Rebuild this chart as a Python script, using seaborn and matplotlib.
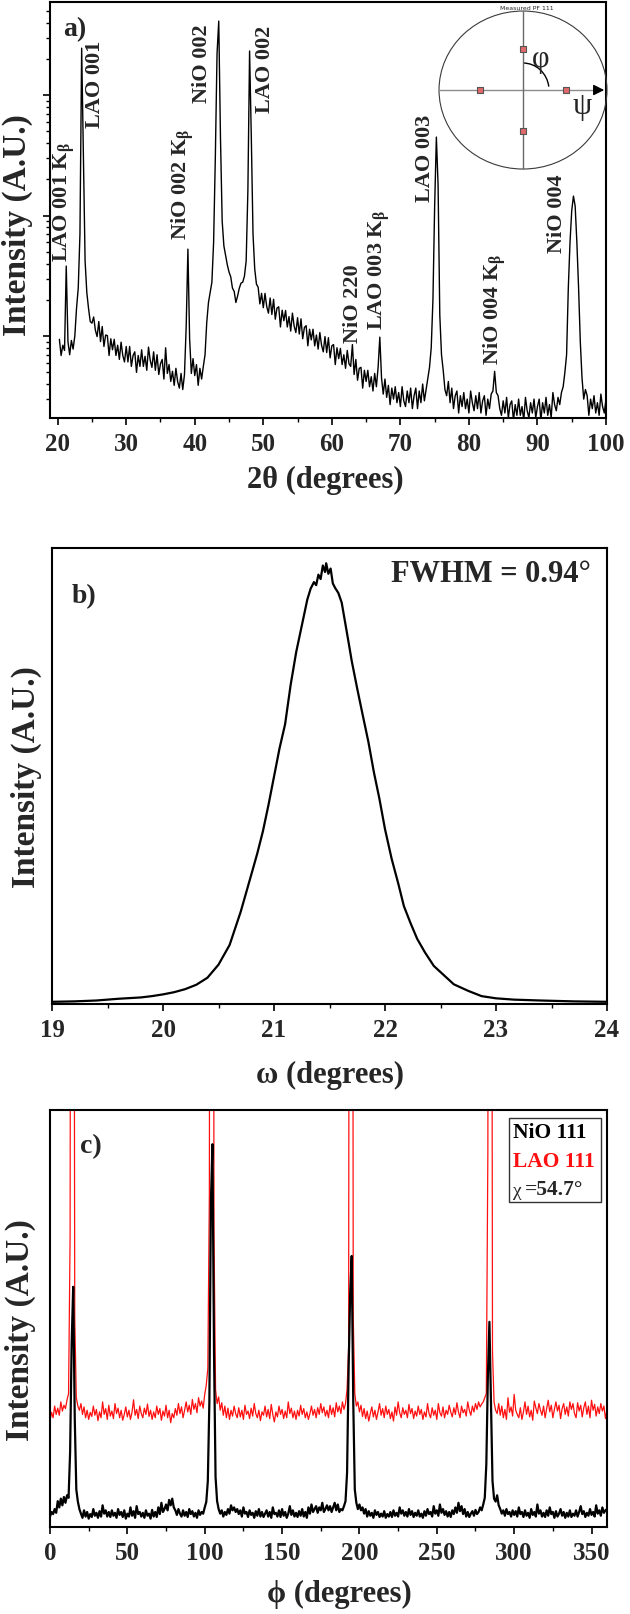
import numpy as np
import pandas as pd
import matplotlib
matplotlib.use("Agg")
import matplotlib.pyplot as plt
import seaborn as sns
from matplotlib.patches import Ellipse, Arc, Rectangle
from matplotlib.ticker import MultipleLocator, LogLocator, NullFormatter

sns.set_style("ticks")
plt.rcParams["font.family"] = ["Liberation Serif", "DejaVu Serif"]
plt.rcParams["font.weight"] = "bold"
plt.rcParams["axes.labelweight"] = "bold"
plt.rcParams["mathtext.fontset"] = "custom"
plt.rcParams["mathtext.rm"] = "Liberation Serif:bold"
plt.rcParams["mathtext.bf"] = "Liberation Serif:bold"
plt.rcParams["mathtext.it"] = "Liberation Serif:italic"

# ---------------- (a) 2theta-omega scan : 0.25 deg steps, 20.25 .. 100 deg --------------
two_theta_start = 20.25
two_theta_step = 0.25
xrd_counts = [
    94, 69, 84, 76,   381, 90, 70, 92,   78, 100, 170, 250,   700, 24500, 3200, 420,
    230, 170, 132, 128,   144, 112, 99, 132,   90, 120, 82, 102,   101, 69, 95, 77,
    94, 69, 84, 64,   89, 69, 61, 82,   61, 82, 56, 69,   74, 50, 69, 56,
    77, 56, 68, 52,   81, 63, 55, 74,   52, 70, 48, 59,   64, 44, 80, 49,
    58, 42, 51, 39,   54, 42, 37, 49,   36, 48, 120, 527,   95, 49, 65, 47,
    58, 39, 54, 44,   56, 70, 130, 190,   230, 280, 600, 3000,   22000, 41100, 4500, 900,
    560, 470, 390, 340,   310, 250, 235, 190,   215, 250, 275, 280,   315, 420, 1600, 23200,
    4500, 700, 360, 270,   254, 185, 226, 172,   226, 176, 155, 207,   151, 202, 138, 171,
    175, 119, 164, 134,   163, 119, 145, 110,   155, 121, 107, 142,   104, 139, 95, 118,
    122, 83, 114, 93,   114, 83, 102, 78,   107, 84, 74, 99,   73, 97, 66, 83,
    85, 58, 80, 65,   79, 58, 70, 54,   76, 59, 56, 85,   48, 64, 43, 54,
    55, 37, 52, 42,   52, 38, 46, 35,   49, 38, 55, 98,   45, 33, 44, 31,
    39, 27, 37, 30,   38, 28, 34, 26,   38, 29, 26, 35,   28, 37, 25, 32,
    37, 25, 35, 28,   40, 29, 36, 45,   55, 80, 200, 1200,   4480, 1800, 150, 70,
    52, 36, 32, 42,   28, 37, 25, 32,   35, 23, 32, 26,   34, 25, 30, 23,
    35, 28, 24, 32,   25, 34, 23, 29,   32, 22, 30, 25,   33, 35, 51, 34,
    32, 25, 22, 29,   23, 31, 21, 27,   29, 20, 27, 22,   30, 22, 26, 20,
    31, 24, 21, 28,   23, 30, 21, 26,   30, 20, 28, 23,   31, 22, 27, 21,
    34, 27, 24, 31,   27, 34, 38, 50,   70, 250, 600, 1100,   1450, 1200, 600, 250,
    90, 45, 30, 36,   32, 22, 30, 25,   32, 23, 28, 22,   33, 26, 23, 30,
]
peak_names = ["LAO 001 K$_\\mathrm{\\beta}$", "LAO 001", "NiO 002 K$_\\mathrm{\\beta}$", "NiO 002",
              "LAO 002", "NiO 220", "LAO 003 K$_\\mathrm{\\beta}$", "LAO 003",
              "NiO 004 K$_\\mathrm{\\beta}$", "NiO 004"]
# label anchors (2theta, counts) where each rotated label starts
peak_label_2theta = [21.0, 25.4, 38.3, 41.1, 50.2, 63.1, 66.9, 73.6, 83.7, 92.9]
peak_label_counts = [419, 5420, 638, 8750, 7230, 89, 114, 1318, 58.6, 498]

# pole figure inset (measured PF 111)
pole_phi_deg = [0, 90, 180, 270]
pole_chi_deg = 54.7

# ---------------- (b) rocking curve ----------------
omega = [19.0, 19.2, 19.4, 19.6, 19.8, 19.9, 20.0, 20.1, 20.2, 20.3, 20.4, 20.5, 20.6, 20.7,
         20.8, 20.85, 20.9, 20.95, 21.0, 21.05, 21.1, 21.15, 21.2, 21.25, 21.3, 21.33, 21.36,
         21.38, 21.40, 21.42, 21.44, 21.46, 21.47, 21.49, 21.51, 21.53, 21.55, 21.58, 21.61,
         21.64, 21.67, 21.70, 21.75, 21.80, 21.85, 21.90, 21.95, 22.0, 22.06, 22.12, 22.17,
         22.23, 22.29, 22.36, 22.44, 22.53, 22.62, 22.75, 22.87, 23.0, 23.16, 23.4, 23.7, 24.0]
rocking = [5, 6, 8, 12, 15, 18, 22, 27, 34, 44, 60, 90, 135, 211,
           300, 345, 395, 455, 520, 585, 640, 730, 805, 865, 925, 950, 965,
           958, 982, 972, 1003, 988, 1008, 984, 996, 962, 952, 940, 918,
           874, 830, 785, 721, 660, 600, 530, 469, 400, 332, 275, 224,
           185, 149, 118, 87, 66, 45, 30, 18, 13, 10, 8, 6, 5]

# ---------------- (c) phi scans, 1 deg steps 0..360 ----------------
nio_111 = [
    25, 36, 31, 43, 34, 62, 47, 68, 52, 72, 58, 76, 70, 180, 440, 576, 260, 90, 61, 43,
    32, 22, 40, 25, 36, 20, 31, 24, 43, 27, 34, 22, 38, 25, 52, 32, 40, 25, 36, 24,
    40, 27, 34, 22, 43, 29, 36, 24, 40, 20, 32, 25, 47, 27, 38, 22, 50, 31, 36, 25,
    34, 22, 40, 27, 32, 20, 41, 25, 36, 24, 47, 31, 58, 36, 43, 54, 40, 65, 52, 68,
    47, 40, 29, 43, 32, 25, 40, 27, 36, 24, 43, 31, 38, 25, 34, 22, 40, 29, 36, 32,
    47, 60, 110, 300, 780, 918, 420, 120, 62, 43, 32, 40, 25, 36, 29, 43, 32, 52, 40, 47,
    36, 43, 31, 40, 25, 47, 32, 36, 24, 40, 29, 34, 22, 38, 27, 43, 25, 36, 24, 32,
    40, 25, 36, 22, 47, 31, 34, 25, 40, 24, 43, 27, 36, 22, 32, 50, 29, 40, 25, 34,
    24, 38, 27, 43, 25, 36, 22, 47, 32, 54, 36, 43, 50, 34, 47, 40, 58, 36, 43, 52,
    40, 50, 36, 47, 58, 40, 54, 36, 43, 40, 50, 62, 130, 380, 560, 650, 300, 90, 58, 43,
    54, 40, 47, 32, 43, 25, 38, 27, 34, 22, 40, 29, 36, 24, 32, 25, 38, 22, 31, 25,
    36, 24, 40, 27, 34, 25, 47, 32, 40, 27, 36, 25, 43, 29, 38, 24, 34, 27, 40, 25,
    32, 22, 38, 27, 43, 31, 36, 25, 50, 32, 40, 27, 54, 34, 43, 29, 38, 25, 36, 24,
    40, 31, 47, 34, 58, 38, 50, 31, 43, 25, 36, 24, 32, 38, 27, 41, 31, 36, 47, 40,
    54, 70, 150, 360, 492, 300, 110, 68, 61, 76, 52, 43, 32, 40, 27, 43, 31, 36, 25, 40,
    29, 38, 25, 47, 31, 36, 24, 40, 27, 34, 22, 43, 29, 36, 25, 54, 32, 40, 25, 34,
    24, 40, 27, 47, 31, 36, 22, 38, 25, 32, 43, 27, 36, 22, 34, 25, 40, 24, 32, 27,
    40, 25, 36, 50, 31, 38, 24, 34, 27, 43, 29, 36, 25, 52, 32, 40, 27, 47, 34, 40, 43,
]
lao_111 = [
    255, 275, 262, 290, 270, 285, 268, 300, 278, 292, 284, 305, 320, 700, 4000, 3000, 500, 310, 290, 280,
    296, 270, 288, 262, 280, 258, 275, 265, 290, 268, 282, 255, 276, 262, 300, 270, 284, 258, 292, 266,
    278, 260, 296, 272, 285, 262, 280, 256, 270, 288, 264, 280, 258, 275, 305, 268, 282, 260, 290, 272,
    262, 285, 270, 295, 265, 280, 258, 276, 262, 290, 270, 284, 256, 278, 266, 292, 262, 280, 250, 272,
    262, 284, 268, 296, 272, 288, 262, 280, 300, 276, 292, 270, 306, 282, 296, 274, 310, 290, 302, 285,
    318, 340, 380, 800, 4000, 3500, 700, 330, 296, 312, 280, 298, 268, 290, 262, 285, 258, 280, 266, 290,
    272, 262, 286, 264, 280, 258, 292, 270, 278, 260, 285, 266, 296, 272, 262, 280, 255, 276, 268, 290,
    264, 282, 260, 294, 270, 252, 276, 264, 290, 270, 282, 260, 278, 262, 300, 272, 285, 262, 278, 258,
    280, 266, 292, 270, 284, 262, 276, 258, 272, 290, 268, 282, 262, 286, 270, 296, 274, 288, 266, 280,
    262, 292, 270, 286, 264, 298, 276, 290, 272, 300, 282, 296, 330, 430, 4000, 4000, 500, 320, 290, 300,
    276, 292, 265, 284, 260, 278, 254, 272, 288, 264, 280, 258, 276, 296, 268, 284, 262, 290, 270, 282,
    260, 276, 254, 288, 268, 300, 274, 262, 286, 270, 280, 262, 294, 272, 284, 260, 278, 266, 290, 270,
    282, 258, 276, 264, 296, 272, 262, 286, 268, 280, 258, 296, 274, 266, 288, 262, 280, 270, 292, 276,
    264, 286, 270, 298, 276, 262, 290, 274, 282, 266, 300, 280, 268, 290, 276, 296, 282, 300, 288, 295,
    300, 310, 320, 900, 4000, 3000, 420, 300, 280, 272, 296, 268, 290, 262, 282, 258, 310, 275, 288, 266,
    318, 280, 270, 262, 286, 258, 276, 300, 270, 290, 264, 280, 256, 302, 286, 272, 296, 280, 268, 290,
    262, 284, 304, 276, 292, 262, 282, 300, 278, 292, 260, 284, 296, 270, 288, 266, 300, 282, 296, 272,
    262, 298, 278, 292, 264, 286, 300, 270, 290, 262, 304, 280, 294, 266, 288, 272, 296, 278, 290, 260, 282,
]
legend_lines = ["NiO 111", "LAO 111"]
chi_text = "=54.7°"

# ---------------- figure ----------------
W, H = 630, 1615
fig = plt.figure(figsize=(W / 100, H / 100), dpi=100)
fig.patch.set_facecolor("white")


def px_axes(left, top, right, bottom):
    return fig.add_axes([left / W, 1 - bottom / H, (right - left) / W, (bottom - top) / H])


ax_a = px_axes(50, 3, 606, 419)
ax_b = px_axes(52, 549, 607, 1005)
ax_c = px_axes(50, 1111, 607, 1528)

tick_kw = dict(direction="out", width=1.2, labelsize=18, pad=5, color="black")
for ax in (ax_a, ax_b, ax_c):
    for sp in ax.spines.values():
        sp.set_linewidth(1.5)
        sp.set_color("black")
    ax.tick_params(which="major", length=4.8, **tick_kw)
    ax.tick_params(which="minor", length=2.9, direction="out", width=1.0, color="black")
    ax.set_facecolor("white")

# ---- (a)
two_theta = two_theta_start + two_theta_step * np.arange(len(xrd_counts))
df_a = pd.DataFrame({"two_theta": two_theta, "counts": xrd_counts})
sns.lineplot(data=df_a, x="two_theta", y="counts", ax=ax_a, color="black", lw=1.0, estimator=None)
ax_a.set_yscale("log")
ax_a.set_xlim(18.88, 100)
ax_a.set_ylim(20.9, 59200)
ax_a.xaxis.set_major_locator(MultipleLocator(10))
ax_a.xaxis.set_minor_locator(MultipleLocator(5))
ax_a.yaxis.set_major_locator(LogLocator(base=10, numticks=12))
ax_a.yaxis.set_minor_locator(LogLocator(base=10, subs=np.arange(2, 10), numticks=12))
ax_a.yaxis.set_major_formatter(NullFormatter())
ax_a.yaxis.set_minor_formatter(NullFormatter())
ax_a.set_xlabel("2θ (degrees)", fontsize=22)
ax_a.set_ylabel("Intensity (A.U.)", fontsize=24)
ax_a.xaxis.set_label_coords(0.496, -0.113)
ax_a.yaxis.set_label_coords(-0.031, 0.465)
for name, x, y in zip(peak_names, peak_label_2theta, peak_label_counts):
    ax_a.text(x, y, name, rotation=90, ha="center", va="bottom", fontsize=16, fontweight="bold")
ax_a.text(0.023, 0.935, "a)", transform=ax_a.transAxes, fontsize=20, ha="left", va="center")

# inset pole figure
ax_in = fig.add_axes([435 / W, 1 - 175 / H, 177 / W, 170 / H])
ax_in.set_xlim(-1.048, 1.06)
ax_in.set_ylim(-1.063, 1.089)
ax_in.axis("off")
ax_in.patch.set_alpha(0)
ax_in.add_patch(Ellipse((0, 0), 2, 2, fill=False, ec="#3a3a3a", lw=0.8))
ax_in.hlines(0, -1, 0.9, color="#8c8c8c", lw=1.0)
ax_in.vlines(0, -1, 1, color="#6a6a6a", lw=1.0)
ax_in.annotate("", xy=(1.0, 0), xytext=(0.86, 0),
               arrowprops=dict(arrowstyle="-|>", color="black", lw=1.0, mutation_scale=16))
ax_in.add_patch(Arc((0, 0), 2 * 26 / 84, 2 * 27 / 79, theta1=8, theta2=90, color="black", lw=1.0))
r_pole = np.tan(np.radians(pole_chi_deg) / 2)
ph = np.radians(pole_phi_deg)
sns.scatterplot(x=r_pole * np.cos(ph), y=r_pole * np.sin(ph), ax=ax_in, marker="s", s=14,
                color="#e06a6a", edgecolor="#555555", linewidth=0.8, zorder=5)
ax_in.text(0.21, 0.40, "φ", fontsize=22, fontweight="normal", ha="center", va="center")
ax_in.text(0.70, -0.19, "ψ", fontsize=22, fontweight="normal", ha="center", va="center")
ax_in.text(0.05, 1.04, "Measured PF 111", fontsize=4.5, fontweight="normal",
           family="DejaVu Sans", ha="center", va="center")

# ---- (b)
df_b = pd.DataFrame({"omega": omega, "intensity": rocking})
sns.lineplot(data=df_b, x="omega", y="intensity", ax=ax_b, color="black", lw=1.6, estimator=None)
ax_b.set_xlim(19, 24)
ax_b.set_ylim(0, 1043)
ax_b.xaxis.set_major_locator(MultipleLocator(1))
ax_b.xaxis.set_minor_locator(MultipleLocator(0.5))
ax_b.tick_params(axis="y", which="both", left=False, labelleft=False)
ax_b.set_xlabel("ω (degrees)", fontsize=22)
ax_b.set_ylabel("Intensity (A.U.)", fontsize=24)
ax_b.xaxis.set_label_coords(0.501, -0.123)
ax_b.yaxis.set_label_coords(-0.018, 0.5)
ax_b.text(0.036, 0.895, "b)", transform=ax_b.transAxes, fontsize=20, ha="left", va="center")
ax_b.text(0.971, 0.943, "FWHM = 0.94°", transform=ax_b.transAxes, fontsize=22, ha="right", va="center")

# ---- (c)
phi = np.arange(len(nio_111))
df_c = pd.DataFrame({"phi": np.concatenate([phi, phi]),
                     "intensity": nio_111 + lao_111,
                     "sample": ["NiO 111"] * len(nio_111) + ["LAO 111"] * len(lao_111)})
sns.lineplot(data=df_c, x="phi", y="intensity", hue="sample", ax=ax_c,
             palette={"NiO 111": "black", "LAO 111": "#ff1010"}, estimator=None, legend=False,
             hue_order=["LAO 111", "NiO 111"])
for ln in ax_c.get_lines():
    if ln.get_color() in ("black", "#000000", (0.0, 0.0, 0.0, 1.0)):
        ln.set_linewidth(1.6)
        ln.set_zorder(3)
    else:
        ln.set_linewidth(0.9)
        ln.set_zorder(2)
ax_c.set_xlim(0, 360)
ax_c.set_ylim(0, 1000)
ax_c.xaxis.set_major_locator(MultipleLocator(50))
ax_c.xaxis.set_minor_locator(MultipleLocator(25))
ax_c.tick_params(axis="y", which="both", left=False, labelleft=False)
ax_c.set_xlabel("ϕ (degrees)", fontsize=22)
ax_c.set_ylabel("Intensity (A.U.)", fontsize=24)
ax_c.xaxis.set_label_coords(0.519, -0.125)
ax_c.yaxis.set_label_coords(-0.025, 0.475)
ax_c.text(0.054, 0.914, "c)", transform=ax_c.transAxes, fontsize=20, ha="left", va="center")
ax_c.add_patch(Rectangle((0.824, 0.779), 0.165, 0.202, transform=ax_c.transAxes,
                         facecolor="white", edgecolor="#333333", lw=1.0, zorder=6))
ax_c.text(0.831, 0.947, legend_lines[0], transform=ax_c.transAxes, fontsize=15.5,
          color="black", ha="left", va="center", zorder=7)
ax_c.text(0.831, 0.878, legend_lines[1], transform=ax_c.transAxes, fontsize=15.5,
          color="#ff1010", ha="left", va="center", zorder=7)
ax_c.text(0.831, 0.808, "χ", transform=ax_c.transAxes, fontsize=14,
          fontweight="normal", ha="left", va="center", zorder=7)
ax_c.text(0.853, 0.811, chi_text, transform=ax_c.transAxes, fontsize=15.5,
          ha="left", va="center", zorder=7)

fig.savefig("out.png", dpi=100, facecolor="white")
